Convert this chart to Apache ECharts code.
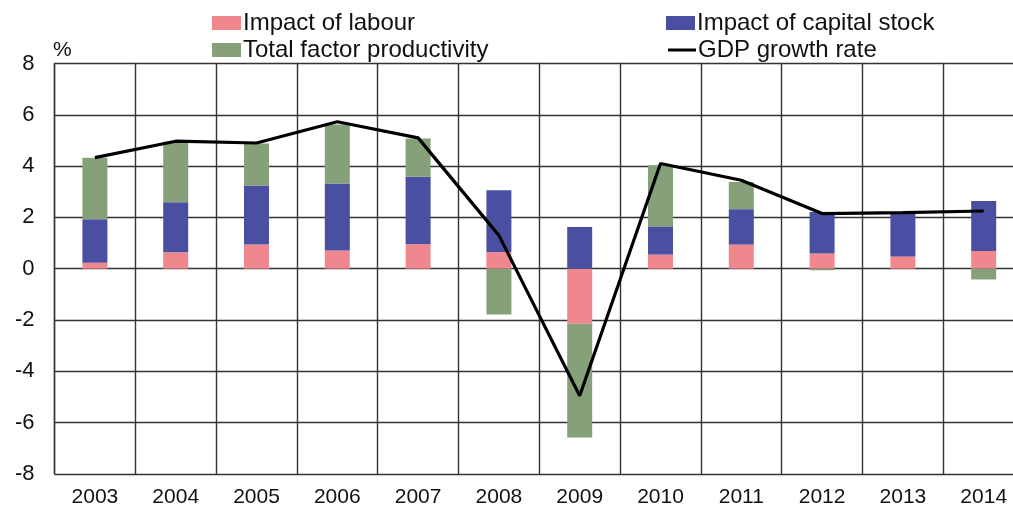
<!DOCTYPE html>
<html><head><meta charset="utf-8">
<script src="https://cdn.jsdelivr.net/npm/echarts@6/dist/echarts.min.js"></script>
<style>html,body{margin:0;padding:0;background:#fff;overflow:hidden}#c{width:1030px;height:509px}</style>
</head><body><div id="c"></div>
<script>
const years = ['2003','2004','2005','2006','2007','2008','2009','2010','2011','2012','2013','2014'];
const labour = [0.23, 0.64, 0.94, 0.71, 0.95, 0.65, -2.15, 0.55, 0.94, 0.59, 0.48, 0.69];
const capital = [1.70, 1.95, 2.30, 2.61, 2.63, 2.41, 1.63, 1.10, 1.38, 1.62, 1.67, 1.95];
const tfp = [2.40, 2.36, 1.64, 2.30, 1.50, -1.79, -4.43, 2.38, 1.06, -0.06, 0.00, -0.42];
const gdp = [4.33, 4.97, 4.90, 5.73, 5.10, 1.30, -4.95, 4.10, 3.45, 2.15, 2.19, 2.25];
const yTicks = {min: -8, max: 8, interval: 2};

const font = 'Liberation Sans, Arial, sans-serif';
const chart = echarts.init(document.getElementById('c'));
const legendText = {fontFamily: font, fontSize: 24, color: '#111', padding: [0,0,0,-3]};
const legendBase = {itemWidth: 29, itemHeight: 14, itemGap: 4, icon: 'rect', textStyle: legendText};
chart.setOption({
  animation: false,
  grid: {left: 54.5, top: 63.5, width: 969.6, height: 410.4, containLabel: false},
  legend: [
    Object.assign({data: ['Impact of labour'], left: 207, top: 6}, legendBase),
    Object.assign({data: ['Impact of capital stock'], left: 661, top: 6}, legendBase),
    Object.assign({data: ['Total factor productivity'], left: 207, top: 33}, legendBase),
    Object.assign({data: [{name: 'GDP growth rate', itemStyle: {color: '#000'}}], left: 663, top: 33,
      icon: 'rect', itemWidth: 28, itemHeight: 3, textStyle: legendText})
  ],
  graphic: [{type: 'text', left: 53, top: 40, style: {text: '%', fontSize: 21, fontFamily: font, fill: '#111'}}],
  xAxis: {type: 'category', data: years, boundaryGap: true,
    axisLine: {show: false}, axisTick: {show: false},
    splitLine: {show: true, interval: 0, lineStyle: {color: '#333', width: 1.4}},
    axisLabel: {fontFamily: font, fontSize: 21, color: '#111', margin: 13}},
  yAxis: {type: 'value', min: yTicks.min, max: yTicks.max, interval: yTicks.interval,
    axisLine: {show: true, lineStyle: {color: '#333', width: 1.4}}, axisTick: {show: false},
    splitLine: {lineStyle: {color: '#333', width: 1.4}},
    axisLabel: {fontFamily: font, fontSize: 22, color: '#111', margin: 20}},
  series: [
    {name: 'Impact of labour', type: 'bar', stack: 's', data: labour, barWidth: 25, itemStyle: {color: '#f0878e'}},
    {name: 'Impact of capital stock', type: 'bar', stack: 's', data: capital, barWidth: 25, itemStyle: {color: '#4a4fa2'}},
    {name: 'Total factor productivity', type: 'bar', stack: 's', data: tfp, barWidth: 25, itemStyle: {color: '#86a079'}},
    {name: 'GDP growth rate', type: 'line', data: gdp, symbol: 'none', lineStyle: {color: '#000', width: 3.2}, itemStyle: {color: '#000'}, z: 5}
  ]
});
</script></body></html>
